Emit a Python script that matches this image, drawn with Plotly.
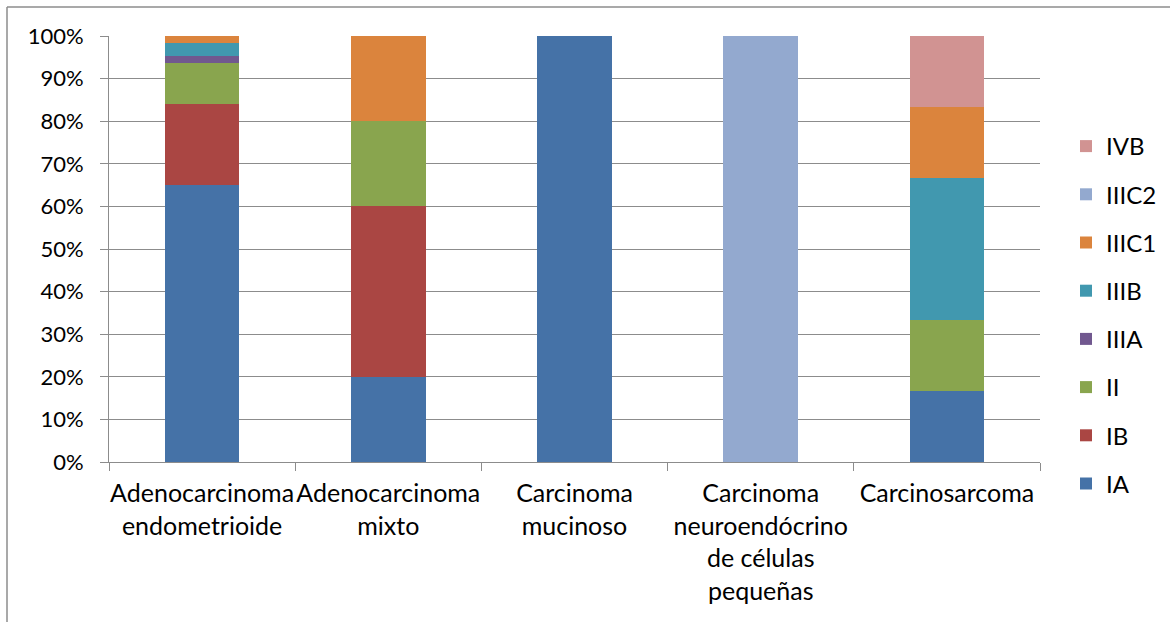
import plotly.graph_objects as go

categories = [
    "Adenocarcinoma<br>endometrioide",
    "Adenocarcinoma<br>mixto",
    "Carcinoma<br>mucinoso",
    "Carcinoma<br>neuroendócrino<br>de células<br>pequeñas",
    "Carcinosarcoma",
]

# Percentage of cases at each FIGO stage, per histological type
stage_IA = [65.1, 20.0, 100.0, 0.0, 16.7]
stage_IB = [19.0, 40.0, 0.0, 0.0, 0.0]
stage_II = [9.5, 20.0, 0.0, 0.0, 16.7]
stage_IIIA = [1.6, 0.0, 0.0, 0.0, 0.0]
stage_IIIB = [3.2, 0.0, 0.0, 0.0, 33.3]
stage_IIIC1 = [1.6, 20.0, 0.0, 0.0, 16.7]
stage_IIIC2 = [0.0, 0.0, 0.0, 100.0, 0.0]
stage_IVB = [0.0, 0.0, 0.0, 0.0, 16.6]

y_tick_values = [0, 10, 20, 30, 40, 50, 60, 70, 80, 90, 100]
y_tick_labels = ["0%", "10%", "20%", "30%", "40%", "50%",
                 "60%", "70%", "80%", "90%", "100%"]

series = [
    ("IA", stage_IA, "#4572A7"),
    ("IB", stage_IB, "#AA4643"),
    ("II", stage_II, "#89A54E"),
    ("IIIA", stage_IIIA, "#71588F"),
    ("IIIB", stage_IIIB, "#4198AF"),
    ("IIIC1", stage_IIIC1, "#DB843D"),
    ("IIIC2", stage_IIIC2, "#93A9CF"),
    ("IVB", stage_IVB, "#D19392"),
]

FONT = "Lato, Calibri, Carlito, sans-serif"

fig = go.Figure()
n = len(series)
for i, (name, vals, color) in enumerate(series):
    fig.add_trace(go.Bar(
        name=name, x=categories, y=vals,
        marker=dict(color=color, line=dict(width=0)),
        legendgroup=name,
        legendrank=100 + (n - i),
        hoverinfo="name+y",
    ))

W, H = 1170, 622
ml, mr, mt, mb = 109, 130, 36, 160
pw, ph = W - ml - mr, H - mt - mb

def px_x(p):
    return (p - ml) / pw

def px_y(p):
    return (H - mb - p) / ph

grid = "#8C8C8C"

fig.update_layout(
    width=W, height=H,
    margin=dict(l=ml, r=mr, t=mt, b=mb, pad=0, autoexpand=False),
    barmode="stack",
    bargap=0.6,
    plot_bgcolor="white",
    paper_bgcolor="white",
    font=dict(family=FONT, size=24, color="#000000"),
    showlegend=True,
    legend=dict(
        traceorder="grouped",
        x=px_x(1066), xanchor="left",
        y=px_y(124), yanchor="top",
        font=dict(family=FONT, size=24),
        tracegroupgap=14,
        itemwidth=30,
        bgcolor="rgba(0,0,0,0)",
    ),
    xaxis=dict(
        showgrid=False,
        showline=True, linecolor=grid, linewidth=1,
        ticks="outside", ticklen=8, tickcolor=grid, tickwidth=1,
        tickson="boundaries",
        tickangle=0,
        automargin=False,
        tickfont=dict(family=FONT, size=25),
        ticklabelstandoff=9,
        fixedrange=True,
    ),
    yaxis=dict(
        range=[0, 100],
        tickvals=y_tick_values,
        ticktext=y_tick_labels,
        showgrid=True, gridcolor=grid, gridwidth=1,
        showline=True, linecolor=grid, linewidth=1,
        ticks="outside", ticklen=8, tickcolor=grid, tickwidth=1,
        automargin=False,
        tickfont=dict(family=FONT, size=22),
        ticklabelstandoff=12,
        zeroline=False,
        fixedrange=True,
    ),
    shapes=[
        # chart frame (top and left edges)
        dict(type="line", xref="paper", yref="paper",
             x0=px_x(7), x1=px_x(W + 5), y0=px_y(7), y1=px_y(7),
             line=dict(color="#8C8C8C", width=1.5)),
        dict(type="line", xref="paper", yref="paper",
             x0=px_x(7), x1=px_x(7), y0=px_y(7), y1=px_y(H + 5),
             line=dict(color="#8C8C8C", width=1.5)),
    ],
)

fig.write_html("out.html")
